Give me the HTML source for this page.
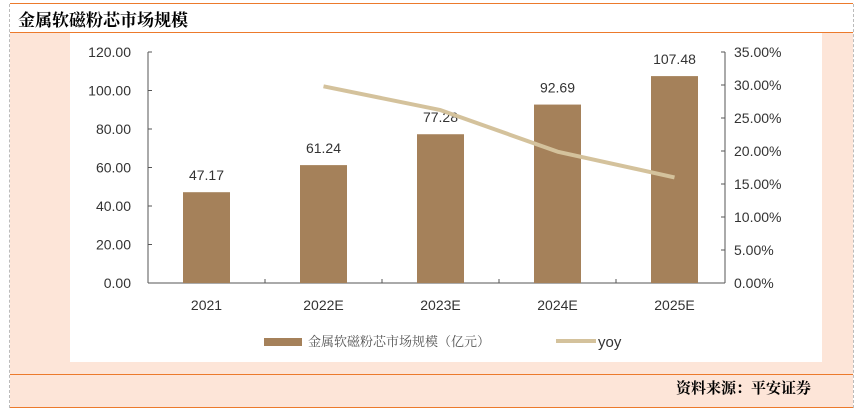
<!DOCTYPE html>
<html><head><meta charset="utf-8"><style>
body{margin:0;width:862px;height:415px;overflow:hidden;background:#fff;font-family:"Liberation Sans","Noto Sans CJK SC",sans-serif;position:relative}
.abs{position:absolute}
</style></head><body>
<div class="abs" style="left:9px;top:4px;width:0;height:404px;border-left:1px dashed #bbb"></div>
<div class="abs" style="left:853px;top:4px;width:0;height:404px;border-left:1px dashed #bbb"></div>
<div class="abs" style="left:10px;top:3px;width:843px;height:1px;background:#ec7a2c"></div>
<div class="abs" style="left:18px;top:6px;font-size:17px;font-weight:bold;color:#000;font-family:'Liberation Serif','Noto Serif CJK SC',serif">金属软磁粉芯市场规模</div>
<div class="abs" style="left:10px;top:32px;width:843px;height:1px;background:#ec7a2c"></div>
<div class="abs" style="left:10px;top:33px;width:843px;height:341px;background:#fde5d8"></div>
<div class="abs" style="left:70px;top:33px;width:752px;height:329px;background:#fff"></div>
<div class="abs" style="left:10px;top:374px;width:843px;height:1px;background:#ec7a2c"></div>
<div class="abs" style="left:10px;top:375px;width:843px;height:32px;background:#fde5d8"></div>
<div class="abs" style="left:10px;top:407px;width:843px;height:1px;background:#ec7a2c"></div>
<div class="abs" style="left:676px;top:377px;font-size:15px;font-weight:bold;font-family:'Liberation Serif','Noto Serif CJK SC',serif">资料来源：平安证券</div>
<svg class="abs" style="left:0;top:0" width="862" height="415">
<g id="g"></g>
<rect x="264" y="338" width="38" height="8" fill="#a5815a"/>
<text x="308" y="346" font-size="13" fill="#555" font-family="'Liberation Serif','Noto Serif CJK SC',serif">金属软磁粉芯市场规模（亿元）</text>
<line x1="556" y1="341" x2="596" y2="341" stroke="#d4c29c" stroke-width="4"/>
<text x="598" y="347" font-size="15" fill="#333">yoy</text>
</svg>
<script>
const categories=["2021","2022E","2023E","2024E","2025E"];
const marketSize=[47.17,61.24,77.28,92.69,107.48];
const sizeLabels=["47.17","61.24","77.28","92.69","107.48"];
const yoy=[null,29.8,26.2,19.9,16.0];
const leftTicks=[0,20,40,60,80,100,120];
const rightTicks=[0,5,10,15,20,25,30,35];
const NS="http://www.w3.org/2000/svg",g=document.getElementById('g');
const X0=148,X1=733,Y0=283,Y1=52;
const band=(X1-X0)/categories.length;
const xc=i=>X0+band*(i+0.5);
const yl=v=>Y0-(v/120)*(Y0-Y1);
const yr=v=>Y0-(v/35)*(Y0-Y1);
function mk(t,a){const e=document.createElementNS(NS,t);for(const k in a)e.setAttribute(k,a[k]);g.appendChild(e);return e;}
let e;
e=mk('line',{x1:X0,y1:Y1,x2:X0,y2:Y0,stroke:'#555'});


e=mk('line',{x1:X1-8,y1:Y1,x2:X1-8,y2:Y0,stroke:'#555'});


e=mk('line',{x1:X0,y1:Y0,x2:X1-8,y2:Y0,stroke:'#555'});


leftTicks.forEach(v=>{
 mk('line',{x1:X0,y1:yl(v),x2:X0+4,y2:yl(v),stroke:'#555'});
 e=mk('text',{x:X0-17,y:yl(v)+5,'font-size':14,fill:'#333','text-anchor':'end'});e.textContent=v.toFixed(2);
 
 
});
rightTicks.forEach(v=>{
 mk('line',{x1:X1-12,y1:yr(v),x2:X1-8,y2:yr(v),stroke:'#555'});
 e=mk('text',{x:X1+1,y:yr(v)+5,'font-size':14,fill:'#333'});e.textContent=v.toFixed(2)+'%';
 
 
});
categories.forEach((c,i)=>{
 if(i>0)mk('line',{x1:X0+band*i,y1:Y0,x2:X0+band*i,y2:Y0-4,stroke:'#555'});
 e=mk('text',{x:xc(i),y:Y0+27,'font-size':14,fill:'#333','text-anchor':'middle'});e.textContent=c;
 
 
 e=mk('rect',{x:xc(i)-23.5,y:yl(marketSize[i]),width:47,height:Y0-yl(marketSize[i]),fill:'#a5815a'});
 
 
 e=mk('text',{x:xc(i),y:yl(marketSize[i])-12,'font-size':14,fill:'#333','text-anchor':'middle'});e.textContent=sizeLabels[i];
 
 
});
let pts=[];yoy.forEach((v,i)=>{if(v!==null)pts.push(xc(i)+','+yr(v));});
e=mk('polyline',{points:pts.join(' '),fill:'none',stroke:'#d4c29c','stroke-width':4,'stroke-linejoin':'round'});


</script>
</body></html>
